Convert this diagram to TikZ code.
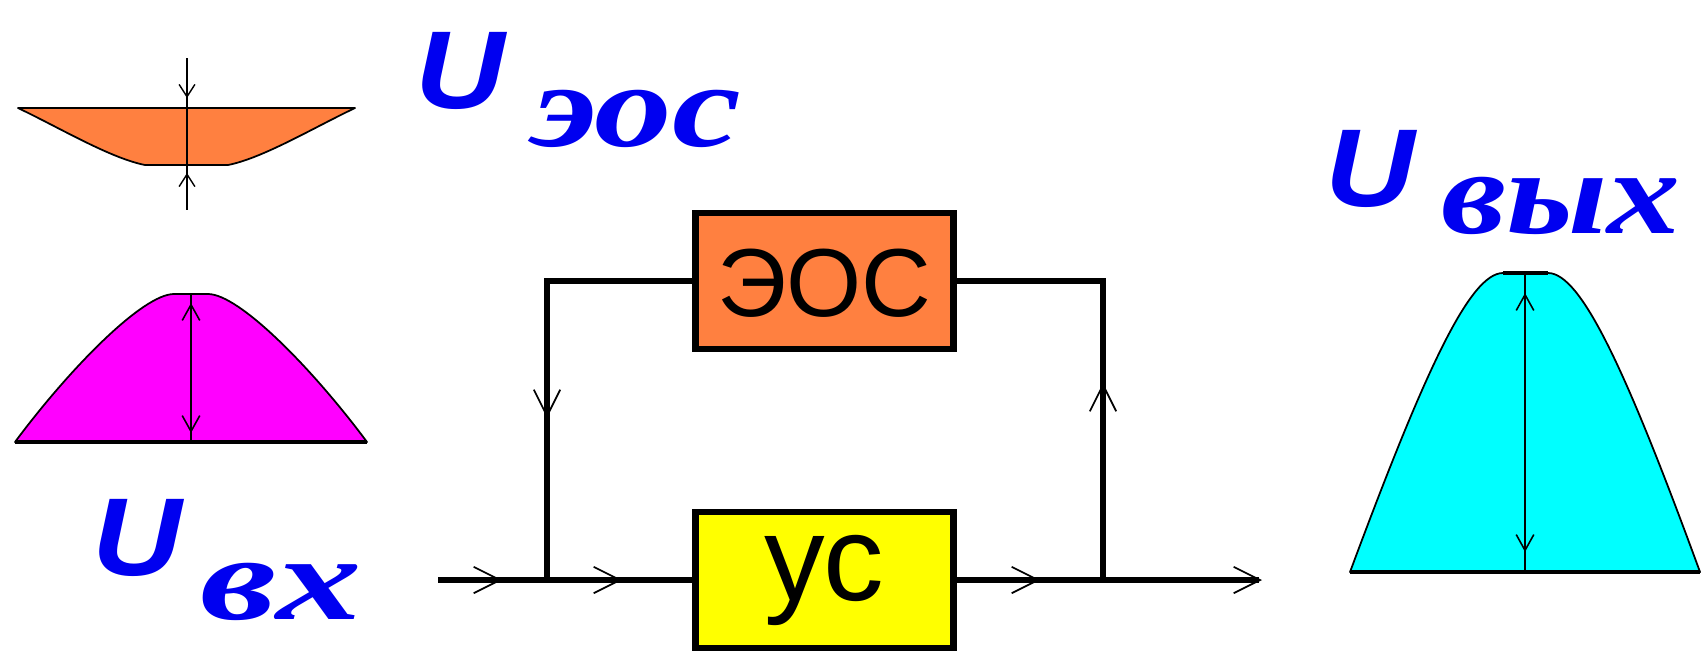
\documentclass[tikz,border=0pt]{standalone}
\usepackage{fontspec}
\setmainfont{Liberation Sans}
\newfontfamily\lsans{Liberation Sans}
\newfontfamily\lserif{Liberation Serif}
\usetikzlibrary{arrows.meta,calc}
\definecolor{eosorange}{RGB}{255,128,64}
\definecolor{ublue}{RGB}{0,0,240}
\definecolor{lenscyan}{RGB}{0,255,255}
\definecolor{lensmag}{RGB}{255,0,255}
\definecolor{usyellow}{RGB}{255,255,0}
\begin{document}
\begin{tikzpicture}[x=0.02cm,y=-0.02cm,
  flow/.style={line width=3.3pt, line join=miter},
  bigbarb/.style={-{Straight Barb[length=15pt,width=15pt,line width=1pt]}},
  smallbarb/.style={-{Straight Barb[length=7pt,width=9pt,line width=0.8pt]}},
  midbarb/.style={-{Straight Barb[length=9pt,width=10pt,line width=0.9pt]}},
  block/.style={draw, line width=3.6pt, minimum width=5.16cm, minimum height=2.72cm, inner sep=0pt},
  lens/.style={draw=black, line width=1pt, line join=round},
  ulabel/.style={text=ublue, inner sep=0pt, anchor=base west, font=\lsans\bfseries\itshape\fontsize{63}{63}\selectfont},
  sublabel/.style={text=ublue, inner sep=0pt, anchor=base west, font=\lserif\bfseries\itshape\fontsize{68}{68}\selectfont},
  boxtext/.style={inner sep=0pt, anchor=base}
]
\useasboundingbox (0,0) rectangle (1702,650);
\fill[white] (0,0) rectangle (1702,650);

% ---- blocks
\node[block, fill=eosorange] (eos) at (824.5,281) {};
\node[block, fill=usyellow] (us) at (824.5,580) {};
\node[boxtext, font=\lsans\fontsize{55}{55}\selectfont] (eost) at (824.5,316) {ЭОС};
\node[boxtext, font=\lsans\fontsize{69}{69}\selectfont] (ust) at (824.5,600) {ус};

% ---- coordinates of the signal path
\coordinate (in) at (438,580);
\coordinate (m1) at (502,580);
\coordinate (j1) at (547,580);
\coordinate (m2) at (622,580);
\coordinate (m3) at (1040,580);
\coordinate (j2) at (1103,580);
\coordinate (out) at (1262,580);
\coordinate (tl) at (547,281);
\coordinate (tr) at (1103,281);
\coordinate (mdown) at (547,418);
\coordinate (mup) at (1103,383);

% ---- main line and feedback loop
\draw[flow] (in) -- (us.west);
\draw[flow, bigbarb] (us.east) -- (out);
\draw[flow] (j2) -- (tr) -- (eos.east);
\draw[flow] (eos.west) -- (tl) -- (j1);

% ---- arrow marks along the lines
\draw[flow, bigbarb] ($(m1)+(-25,0)$) -- (m1);
\draw[flow, bigbarb] ($(m2)+(-25,0)$) -- (m2);
\draw[flow, bigbarb] ($(m3)+(-25,0)$) -- (m3);
\draw[flow, bigbarb] ($(mup)+(0,25)$) -- (mup);
\draw[flow, bigbarb] ($(mdown)+(0,-25)$) -- (mdown);

% ---- orange lens (U eos)
\filldraw[lens, fill=eosorange] (18,108) -- (355,108) .. controls (313,128) and (263,158) .. (228,165) -- (145,165) .. controls (110,158) and (60,128) .. (18,108) -- cycle;
\draw[line width=1.1pt] (187,58) -- (187,210);
\draw[smallbarb] (187,70) -- (187,98);
\draw[smallbarb] (187,200) -- (187,173);

% ---- magenta hump (U in)
\filldraw[lens, fill=lensmag] (15,442) .. controls (70,368) and (143,294) .. (174,294) -- (208,294) .. controls (239,294) and (312,368) .. (367,442) -- cycle;
\draw[line width=1.8pt] (15,442) -- (367,442);
\draw[line width=1.1pt] (191,294) -- (191,442);
\draw[midbarb] (191,340) -- (191,303);
\draw[midbarb] (191,400) -- (191,433);

% ---- cyan hump (U out)
\filldraw[lens, fill=lenscyan] (1350,572) .. controls (1425,370) and (1470,273) .. (1503,273) -- (1548,273) .. controls (1581,273) and (1626,370) .. (1700,572) -- cycle;
\draw[line width=2.6pt] (1350,572) -- (1700,572);
\draw[line width=2.6pt] (1503,273) -- (1548,273);
\draw[line width=1.1pt] (1525,273) -- (1525,572);
\draw[midbarb] (1525,340) -- (1525,293);
\draw[midbarb] (1525,505) -- (1525,552);

% ---- labels
\node[ulabel, xscale=1.12] (ueos) at (415,108) {U};
\node[sublabel, xscale=1.3] (seos) at (532,146) {эос};
\node[ulabel, xscale=1.12] (uout) at (1325,206) {U};
\node[sublabel, xscale=1.22] (sout) at (1441,233) {вых};
\node[ulabel, xscale=1.12] (uin) at (92,575) {U};
\node[sublabel, xscale=1.43] (sin) at (200,619) {вх};
\end{tikzpicture}
\end{document}
